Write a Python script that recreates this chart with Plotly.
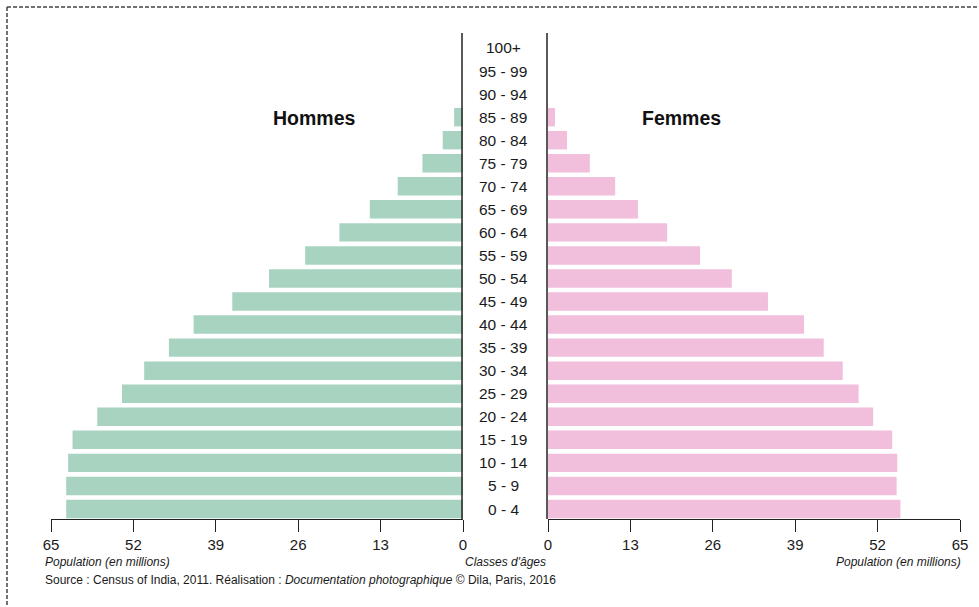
import plotly.graph_objects as go

# ---- data ----
ages = ["0 - 4", "5 - 9", "10 - 14", "15 - 19", "20 - 24", "25 - 29", "30 - 34",
        "35 - 39", "40 - 44", "45 - 49", "50 - 54", "55 - 59", "60 - 64", "65 - 69",
        "70 - 74", "75 - 79", "80 - 84", "85 - 89", "90 - 94", "95 - 99", "100+"]
hommes = [62.6, 62.6, 62.3, 61.6, 57.7, 53.8, 50.3, 46.4, 42.5, 36.4, 30.6,
          24.9, 19.5, 14.7, 10.3, 6.4, 3.2, 1.4, 0, 0, 0]
femmes = [55.6, 55.0, 55.1, 54.3, 51.3, 49.0, 46.5, 43.5, 40.4, 34.7, 29.0,
          24.0, 18.8, 14.2, 10.6, 6.6, 3.0, 1.1, 0, 0, 0]
tick_vals = [0, 13, 26, 39, 52, 65]
tick_text = ["0", "13", "26", "39", "52", "65"]

W, H = 979, 607
def px(x):
    return x / W
def py(y):
    return 1 - y / H

GREEN = "#a8d3c1"
PINK = "#f1bedc"
FONT = "Liberation Sans, Arial, sans-serif"
TXT = "#1a1a1a"

fig = go.Figure()
fig.add_trace(go.Bar(y=ages, x=hommes, orientation="h", xaxis="x", yaxis="y",
                     marker=dict(color=GREEN, line=dict(width=0)), name="Hommes",
                     showlegend=False))
fig.add_trace(go.Bar(y=ages, x=femmes, orientation="h", xaxis="x2", yaxis="y",
                     marker=dict(color=PINK, line=dict(width=0)), name="Femmes",
                     showlegend=False))

axis_common = dict(
    tickvals=tick_vals, ticktext=tick_text, ticks="outside", ticklen=12,
    tickwidth=1, tickcolor="#222", showline=True, linecolor="#222", linewidth=1,
    showgrid=False, zeroline=False, anchor="y", fixedrange=True, automargin=False,
    tickfont=dict(family=FONT, size=15, color=TXT),
)

fig.update_layout(
    width=W, height=H, autosize=False,
    margin=dict(l=0, r=0, t=0, b=0, pad=0),
    paper_bgcolor="white", plot_bgcolor="rgba(0,0,0,0)",
    barmode="overlay", bargap=0.2,
    xaxis=dict(domain=[px(51), px(463)], range=[65, 0], **axis_common),
    xaxis2=dict(domain=[px(548), px(960)], range=[0, 65], **axis_common),
    yaxis=dict(domain=[py(519), py(33)], type="category", categoryorder="array",
               categoryarray=ages, range=[-0.434, 20.65], visible=False,
               automargin=False, fixedrange=True),
    font=dict(family=FONT, color=TXT),
)

annotations = []
for a in ages:
    annotations.append(dict(x=px(503), xref="paper", y=a, yref="y", text=a,
                            showarrow=False, xanchor="center", yanchor="middle",
                            font=dict(family=FONT, size=15.5, color=TXT)))
annotations += [
    dict(x=px(271), y=py(118), text="<b>Hommes</b>", font=dict(family=FONT, size=19.5, color="#111")),
    dict(x=px(723), y=py(118), text="<b>Femmes</b>", font=dict(family=FONT, size=19.5, color="#111")),
    dict(x=px(43), y=py(562), text="<i>Population (en millions)</i>", xanchor="left",
         font=dict(family=FONT, size=12, color=TXT)),
    dict(x=px(963), y=py(562), text="<i>Population (en millions)</i>", xanchor="right",
         font=dict(family=FONT, size=12, color=TXT)),
    dict(x=px(505), y=py(562), text="<i>Classes d'âges</i>",
         font=dict(family=FONT, size=12, color=TXT)),
    dict(x=px(43), y=py(580),
         text="Source : Census of India, 2011. Réalisation : <i>Documentation photographique</i> © Dila, Paris, 2016",
         xanchor="left", font=dict(family=FONT, size=12, color=TXT)),
]
for an in annotations[len(ages):]:
    an.setdefault("xref", "paper")
    an.setdefault("yref", "paper")
    an.setdefault("showarrow", False)
    an.setdefault("yanchor", "middle")
fig.update_layout(annotations=annotations)

shapes = [
    # central column lines
    dict(type="line", xref="paper", yref="paper", x0=px(462), x1=px(462),
         y0=py(33), y1=py(519), line=dict(color="#222", width=1.5)),
    dict(type="line", xref="paper", yref="paper", x0=px(547), x1=px(547),
         y0=py(33), y1=py(519), line=dict(color="#222", width=1.5)),
    # dashed frame
    dict(type="line", xref="paper", yref="paper", x0=px(7), x1=1,
         y0=py(7), y1=py(7), line=dict(color="#444", width=1.5, dash="4px,2px")),
    dict(type="line", xref="paper", yref="paper", x0=px(7), x1=px(7),
         y0=py(7), y1=0, line=dict(color="#444", width=1.5, dash="4px,2px")),
]
fig.update_layout(shapes=shapes)

fig.write_html(
    "out.html",
    config={"displayModeBar": False},
    post_script="document.body.style.margin='0';document.body.style.overflow='hidden';",
)
